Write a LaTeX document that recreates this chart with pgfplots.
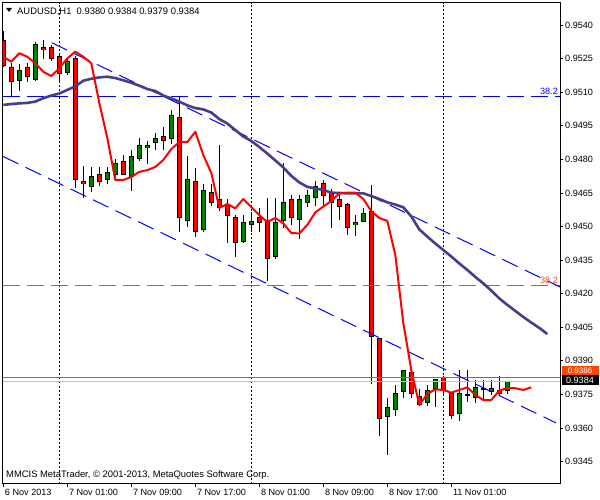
\documentclass[border=0pt]{standalone}
\usepackage{pgfplots}
\pgfplotsset{compat=1.18}
\usepackage{pgfplotstable}
\usepackage{fontspec}
\setmainfont{Liberation Sans}
\definecolor{mtgreen}{RGB}{0,128,0}
\definecolor{mtred}{RGB}{255,0,0}
\definecolor{dsb}{RGB}{72,61,139}
\definecolor{ored}{RGB}{255,69,0}
\definecolor{silv}{RGB}{192,192,192}
\definecolor{mtblue}{RGB}{0,0,255}
\newcommand{\mtfont}{\fontsize{9.1bp}{10bp}\selectfont}

\pgfplotstableread{
x o h l c
-7 0.95333 0.95373 0.95215 0.95221
-6 0.95211 0.95232 0.95083 0.95147
-5 0.95154 0.95229 0.95106 0.95199
-4 0.95211 0.95232 0.95147 0.95169
-3 0.95157 0.95323 0.95150 0.95314
-2 0.95300 0.95333 0.95251 0.95291
-1 0.95300 0.95311 0.95240 0.95251
0 0.95258 0.95273 0.95139 0.95181
1 0.95189 0.95256 0.95177 0.95240
2 0.95251 0.95261 0.94671 0.94710
3 0.94701 0.94774 0.94630 0.94692
4 0.94680 0.94767 0.94655 0.94725
5 0.94733 0.94767 0.94682 0.94701
6 0.94710 0.94767 0.94692 0.94742
7 0.94734 0.94804 0.94710 0.94782
8 0.94791 0.94823 0.94730 0.94734
9 0.94722 0.94841 0.94659 0.94811
10 0.94804 0.94894 0.94792 0.94862
11 0.94853 0.94881 0.94779 0.94862
12 0.94876 0.94919 0.94844 0.94894
13 0.94901 0.94945 0.94844 0.94886
14 0.94894 0.95020 0.94871 0.94998
15 0.94987 0.95080 0.94476 0.94540
16 0.94528 0.94814 0.94496 0.94710
17 0.94703 0.94761 0.94452 0.94479
18 0.94488 0.94692 0.94476 0.94662
19 0.94652 0.94692 0.94591 0.94609
20 0.94622 0.94864 0.94570 0.94588
21 0.94598 0.94622 0.94427 0.94548
22 0.94540 0.94551 0.94364 0.94429
23 0.94436 0.94551 0.94427 0.94518
24 0.94509 0.94565 0.94475 0.94525
25 0.94540 0.94581 0.94476 0.94518
26 0.94525 0.94631 0.94260 0.94357
27 0.94367 0.94630 0.94358 0.94518
28 0.94528 0.94782 0.94493 0.94607
29 0.94621 0.94640 0.94506 0.94540
30 0.94531 0.94640 0.94446 0.94621
31 0.94607 0.94665 0.94589 0.94640
32 0.94630 0.94705 0.94591 0.94678
33 0.94692 0.94709 0.94595 0.94640
34 0.94652 0.94670 0.94496 0.94607
35 0.94621 0.94640 0.94528 0.94591
36 0.94598 0.94607 0.94461 0.94496
37 0.94509 0.94551 0.94457 0.94518
38 0.94525 0.94585 0.94520 0.94558
39 0.94568 0.94685 0.93795 0.94010
40 0.93999 0.94003 0.93567 0.93642
41 0.93653 0.93736 0.93478 0.93694
42 0.93682 0.93791 0.93653 0.93754
43 0.93765 0.93862 0.93734 0.93858
44 0.93847 0.93858 0.93736 0.93754
45 0.93743 0.93776 0.93697 0.93704
46 0.93713 0.93791 0.93701 0.93768
47 0.93776 0.93818 0.93694 0.93816
48 0.93825 0.93835 0.93746 0.93768
49 0.93754 0.93761 0.93642 0.93657
50 0.93664 0.93858 0.93634 0.93754
51 0.93746 0.93858 0.93716 0.93748
52 0.93736 0.93816 0.93712 0.93783
53 0.93776 0.93816 0.93731 0.93777
54 0.93765 0.93816 0.93750 0.93776
55 0.93768 0.93835 0.93750 0.93754
56 0.93768 0.93808 0.93754 0.93808
}\candles

\pgfplotstableread{
x y
-7 0.95258
-6 0.95236
-5 0.95274
-4 0.95258
-3 0.95229
-2 0.95191
-1 0.95172
0 0.95207
1 0.95251
2 0.95281
3 0.95258
4 0.95229
5 0.95052
6 0.94895
7 0.94708
8 0.94708
9 0.94721
10 0.94744
11 0.94752
12 0.94766
13 0.94797
14 0.94846
15 0.94877
16 0.94877
17 0.94923
18 0.94819
19 0.94739
20 0.94583
21 0.94601
22 0.94581
23 0.94623
24 0.94587
25 0.94551
26 0.94520
27 0.94538
28 0.94514
29 0.94471
30 0.94469
31 0.94507
32 0.94563
33 0.94589
34 0.94614
35 0.94648
36 0.94651
37 0.94651
38 0.94623
39 0.94569
40 0.94538
41 0.94525
42 0.94373
43 0.94069
44 0.93859
45 0.93703
46 0.93752
47 0.93773
48 0.93770
49 0.93758
50 0.93770
51 0.93782
52 0.93748
53 0.93725
54 0.93725
55 0.93767
56 0.93778
57 0.93778
58 0.93770
59 0.93782
}\redma

\pgfplotstableread{
x y
-7 0.95043
-6 0.95047
-5 0.95050
-4 0.95052
-3 0.95058
-2 0.95073
-1 0.95085
0 0.95094
1 0.95110
2 0.95126
3 0.95151
4 0.95160
5 0.95166
6 0.95169
7 0.95163
8 0.95153
9 0.95142
10 0.95129
11 0.95114
12 0.95105
13 0.95085
14 0.95072
15 0.95058
16 0.95041
17 0.95029
18 0.95023
19 0.95009
20 0.94980
21 0.94960
22 0.94931
23 0.94902
24 0.94882
25 0.94855
26 0.94826
27 0.94795
28 0.94764
29 0.94726
30 0.94697
31 0.94677
32 0.94670
33 0.94663
34 0.94651
35 0.94650
36 0.94648
37 0.94648
38 0.94648
39 0.94636
40 0.94623
41 0.94608
42 0.94598
43 0.94586
44 0.94545
45 0.94487
46 0.94455
47 0.94424
48 0.94395
49 0.94366
50 0.94335
51 0.94306
52 0.94275
53 0.94246
54 0.94214
55 0.94179
56 0.94150
57 0.94123
58 0.94096
59 0.94071
60 0.94047
61 0.94020
}\purpma

\begin{document}
\begin{tikzpicture}
\path[use as bounding box] (-2.7bp,-16.5bp) rectangle (597.3bp,483.5bp);
\begin{axis}[
  at={(0bp,0bp)}, anchor=south west,
  scale only axis, width=557.3bp, height=480.8bp,
  xmin=-7.075, xmax=62.5875, ymin=0.933523, ymax=0.954996,
  axis line style={black, line width=1bp},
  xtick={-7,1,9,17,25,33,41,49},
  xticklabels={6 Nov 2013, 7 Nov 01:00, 7 Nov 09:00, 7 Nov 17:00, 8 Nov 01:00, 8 Nov 09:00, 8 Nov 17:00, 11 Nov 01:00},
  ytick={0.9345,0.9360,0.9375,0.9390,0.9405,0.9420,0.9435,0.9450,0.9465,0.9480,0.9495,0.9510,0.9525,0.9540},
  yticklabels={0.9345,0.9360,0.9375,0.9390,0.9405,0.9420,0.9435,0.9450,0.9465,0.9480,0.9495,0.9510,0.9525,0.9540},
  xtick pos=left, ytick pos=right, yticklabel pos=right,
  tick align=outside, major tick length=3bp,
  tick style={black, line width=0.8bp},
  xticklabel style={font=\mtfont, anchor=north west, inner sep=0pt, xshift=1.5bp, yshift=-2bp},
  yticklabel style={font=\mtfont, anchor=west, inner sep=0pt, xshift=2bp},
  extra x ticks={0,24,48},
  extra x tick labels={},
  extra x tick style={grid=major, major grid style={black, line width=0.8bp, dash pattern=on 2bp off 2bp}, major tick length=0pt},
  clip=true,
]
% wicks
\addplot[draw=none, mark=none, forget plot, error bars/.cd, y dir=both, y explicit, error mark=none,
  error bar style={draw=black, line width=1bp, solid}]
  table[x=x, y expr={(\thisrow{h}+\thisrow{l})/2}, y error expr={(\thisrow{h}-\thisrow{l})/2}] {\candles};
% body outlines
\addplot[draw=none, mark=none, forget plot, error bars/.cd, y dir=both, y explicit, error mark=none,
  error bar style={draw=black, line width=5bp, solid}]
  table[x=x, y expr={(\thisrow{o}+\thisrow{c})/2}, y error expr={abs(\thisrow{c}-\thisrow{o})/2+0.0000223}] {\candles};
% bull bodies
\addplot[draw=none, mark=none, forget plot, error bars/.cd, y dir=both, y explicit, error mark=none,
  error bar style={draw=mtgreen, line width=3bp, solid}]
  table[x=x, y expr={(\thisrow{o}+\thisrow{c})/2}, y error expr={ifthenelse(\thisrow{c}>\thisrow{o}, max((\thisrow{c}-\thisrow{o})/2-0.0000223,0), 0)}] {\candles};
% bear bodies
\addplot[draw=none, mark=none, forget plot, error bars/.cd, y dir=both, y explicit, error mark=none,
  error bar style={draw=mtred, line width=3bp, solid}]
  table[x=x, y expr={(\thisrow{o}+\thisrow{c})/2}, y error expr={ifthenelse(\thisrow{o}>\thisrow{c}, max((\thisrow{o}-\thisrow{c})/2-0.0000223,0), 0)}] {\candles};

% horizontal levels
\addplot[mtblue, line width=1bp, dash pattern=on 17bp off 7bp] coordinates {(-7.075,0.95082) (62.5875,0.95082)};
\addplot[ored, line width=1bp, dash pattern=on 17bp off 7bp] coordinates {(-7.075,0.94237) (62.5875,0.94237)};
\addplot[silv, line width=1bp] coordinates {(-7.075,0.93810) (62.5875,0.93810)};
\addplot[ored, line width=1bp] coordinates {(-7.075,0.93827) (62.5875,0.93827)};
% channel
\addplot[mtblue, line width=1bp, dash pattern=on 17bp off 8bp] coordinates {(-0.95,0.95321) (62.5875,0.94230)};
\addplot[mtblue, line width=1bp, dash pattern=on 17bp off 8bp] coordinates {(-7.04,0.94813) (62.09,0.93623)};
% moving averages
\addplot[dsb, line width=2.6bp, line join=round] table[x=x,y=y] {\purpma};
\addplot[mtred, line width=2bp, line join=round] table[x=x,y=y] {\redma};

\node[anchor=south east, inner sep=0pt, text=mtblue, font=\mtfont] at (axis cs:62.34,0.95087) {38.2};
\node[anchor=south east, inner sep=0pt, text=ored, font=\mtfont] at (axis cs:62.34,0.94242) {38.2};
\end{axis}
% header
\fill[black] (3.3bp,475.5bp) -- (9.3bp,475.5bp) -- (6.3bp,471.5bp) -- cycle;
\node[anchor=base west, inner sep=0pt, font=\fontsize{9.4bp}{10bp}\selectfont] at (14.3bp,469bp) {AUDUSD,H1\ \ 0.9380 0.9384 0.9379 0.9384};
% footer
\node[anchor=base west, inner sep=0pt, font=\fontsize{9.4bp}{10bp}\selectfont] at (3.3bp,6.5bp) {MMCIS MetaTrader, \textcopyright{} 2001-2013, MetaQuotes Software Corp.};
% price boxes
\node[fill=ored, text=white, minimum width=37bp, minimum height=9bp, inner sep=0pt, font=\fontsize{8bp}{9bp}\selectfont] at (577.3bp,113bp) {0.9386};
\node[fill=black, text=white, minimum width=37bp, minimum height=10bp, inner sep=0pt, font=\mtfont] at (577.3bp,103.5bp) {0.9384};
\end{tikzpicture}
\end{document}
